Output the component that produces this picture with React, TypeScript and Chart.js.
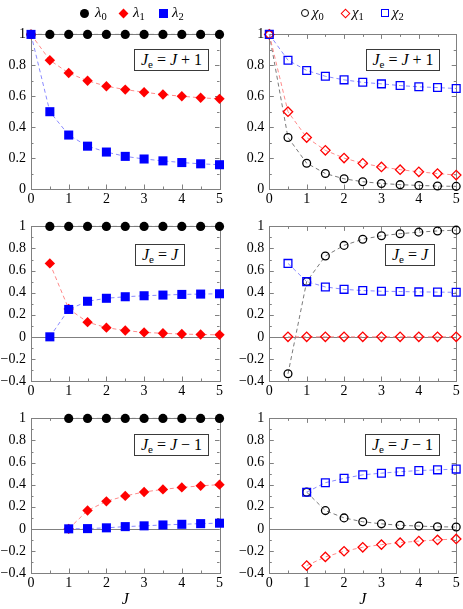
import React, { useEffect, useRef } from "react";
import { Chart, registerables } from "chart.js";

Chart.register(...registerables);

// ---------- data ----------
const J_FULL = [0, 0.5, 1, 1.5, 2, 2.5, 3, 3.5, 4, 4.5, 5];
const J_HALF = [0.5, 1, 1.5, 2, 2.5, 3, 3.5, 4, 4.5, 5];
const J_ONE = [1, 1.5, 2, 2.5, 3, 3.5, 4, 4.5, 5];

// Je = J + 1
const LAMBDA0_PLUS = [1, 1, 1, 1, 1, 1, 1, 1, 1, 1, 1];
const LAMBDA1_PLUS = [1, 0.833, 0.75, 0.7, 0.665, 0.643, 0.626, 0.611, 0.6, 0.59, 0.583];
const LAMBDA2_PLUS = [1, 0.5, 0.349, 0.277, 0.239, 0.211, 0.194, 0.182, 0.171, 0.163, 0.157];
const CHI0_PLUS = [1, 0.333, 0.167, 0.1, 0.066, 0.047, 0.036, 0.028, 0.023, 0.019, 0.017];
const CHI1_PLUS = [1, 0.5, 0.333, 0.25, 0.2, 0.166, 0.143, 0.125, 0.111, 0.1, 0.09];
const CHI2_PLUS = [1, 0.833, 0.767, 0.729, 0.706, 0.69, 0.68, 0.669, 0.661, 0.656, 0.65];

// Je = J
const LAMBDA0_SAME = [1, 1, 1, 1, 1, 1, 1, 1, 1, 1];
const LAMBDA1_SAME = [0.665, 0.253, 0.133, 0.083, 0.057, 0.04, 0.032, 0.025, 0.021, 0.018];
const LAMBDA2_SAME = [0, 0.248, 0.322, 0.349, 0.363, 0.372, 0.378, 0.384, 0.387, 0.39];
const CHI0_SAME = [-0.335, 0.5, 0.732, 0.828, 0.884, 0.915, 0.934, 0.948, 0.959, 0.966];
const CHI1_SAME = [0, 0, 0, 0, 0, 0, 0, 0, 0, 0];
const CHI2_SAME = [0.665, 0.5, 0.452, 0.43, 0.419, 0.413, 0.41, 0.407, 0.405, 0.403];

// Je = J - 1
const LAMBDA0_MINUS = [1, 1, 1, 1, 1, 1, 1, 1, 1];
const LAMBDA1_MINUS = [0, 0.166, 0.249, 0.298, 0.334, 0.357, 0.375, 0.389, 0.4];
const LAMBDA2_MINUS = [0, 0.002, 0.009, 0.02, 0.027, 0.035, 0.041, 0.047, 0.051];
const CHI0_MINUS = [0.332, 0.165, 0.099, 0.064, 0.045, 0.032, 0.025, 0.019, 0.016];
const CHI1_MINUS = [-0.333, -0.254, -0.203, -0.167, -0.143, -0.125, -0.111, -0.1, -0.092];
const CHI2_MINUS = [0.332, 0.418, 0.457, 0.489, 0.504, 0.517, 0.528, 0.534, 0.541];

const LAMBDA_LABELS = ["λ0", "λ1", "λ2"];
const CHI_LABELS = ["χ0", "χ1", "χ2"];
const X_RANGE = [0, 5];
const Y_RANGE_TOP = [0, 1];
const Y_RANGE_LOW = [-0.4, 1];

// ---------- styles ----------
const FONT = "'Liberation Serif', 'Times New Roman', serif";
const FRAME = "#808080";
const KINDS = [
  { color: "#000000", line: "#7a7a7a", style: "circle", rFill: 4.6, rOpen: 3.9 },
  { color: "#ff0000", line: "#ff8a8a", style: "rectRot", rFill: 5.2, rOpen: 4.7 },
  { color: "#0000ff", line: "#8a8aff", style: "rect", rFill: 6.4, rOpen: 5.5 },
];

const framePlugin = {
  id: "frame",
  beforeDatasetsDraw(chart: any) {
    const { ctx, chartArea } = chart;
    const { left, right, top, bottom } = chartArea;
    const xs = chart.scales.x;
    const ys = chart.scales.y;
    const p = (v: number) => Math.round(v) + 0.5;
    ctx.save();
    ctx.lineWidth = 1;
    ctx.strokeStyle = FRAME;
    if (ys.min < 0 && ys.max > 0) {
      const y0 = p(ys.getPixelForValue(0));
      ctx.beginPath();
      ctx.moveTo(left, y0);
      ctx.lineTo(right, y0);
      ctx.stroke();
    }
    ctx.beginPath();
    ys.ticks.forEach((t: any) => {
      const y = p(ys.getPixelForValue(t.value));
      const major = Math.round(t.value * 10) % 2 === 0;
      const len = major ? 4.5 : 2.5;
      ctx.moveTo(left, y);
      ctx.lineTo(left + len, y);
      ctx.moveTo(right, y);
      ctx.lineTo(right - len, y);
    });
    xs.ticks.forEach((t: any) => {
      const x = p(xs.getPixelForValue(t.value));
      const major = Number.isInteger(Math.round(t.value * 100) / 100);
      const len = major ? 4.5 : 2.5;
      ctx.moveTo(x, bottom);
      ctx.lineTo(x, bottom - len);
      ctx.moveTo(x, top);
      ctx.lineTo(x, top + len);
    });
    ctx.stroke();
    const l = p(left), t = p(top);
    ctx.strokeRect(l, t, Math.round(right) - Math.round(left), Math.round(bottom) - Math.round(top));
    ctx.restore();
  },
};

type Series = { label: string; x: number[]; y: number[] };

type PanelProps = {
  left: number;
  top: number;
  width: number;
  height: number;
  yRange: number[];
  series: Series[];
  open: boolean;
  xTitle: boolean;
  yAxisWidth: number;
  padRight: number;
  xAxisHeight: number;
};

function fmt(v: number) {
  const r = Math.round(v * 10) / 10;
  return String(r).replace("-", "\u2212");
}

function Panel(props: PanelProps) {
  const ref = useRef<HTMLCanvasElement>(null);
  useEffect(() => {
    const { yRange, series, open, xTitle, yAxisWidth, padRight, xAxisHeight } = props;
    const chart = new Chart(ref.current as HTMLCanvasElement, {
      type: "line",
      data: {
        datasets: series.map((s, i) => ({
          label: s.label,
          data: s.x.map((x, k) => ({ x, y: s.y[k] })),
          borderColor: KINDS[i].line,
          borderWidth: 1,
          borderDash: [4, 3],
          fill: false,
          tension: 0,
          pointStyle: KINDS[i].style as any,
          pointRadius: open ? KINDS[i].rOpen : KINDS[i].rFill,
          pointBackgroundColor: open ? "rgba(0,0,0,0)" : KINDS[i].color,
          pointBorderColor: KINDS[i].color,
          pointBorderWidth: open ? 1.3 : 0,
          order: 3 - i,
          clip: false as any,
        })),
      },
      options: {
        responsive: false,
        animation: false,
        events: [],
        layout: { padding: { top: 10, right: padRight, bottom: 0, left: 0 } },
        plugins: { legend: { display: false }, tooltip: { enabled: false } },
        scales: {
          x: {
            type: "linear",
            min: X_RANGE[0],
            max: X_RANGE[1],
            grid: { display: false, drawTicks: false, tickLength: 0 },
            border: { display: false },
            ticks: {
              stepSize: 0.5,
              autoSkip: false,
              maxRotation: 0,
              padding: 2,
              color: "#000",
              font: { family: FONT, size: 14 },
              callback: (v: any) => (Number.isInteger(v) ? String(v) : ""),
            },
            title: {
              display: xTitle,
              text: "J",
              color: "#000",
              padding: { top: 0, bottom: 0 },
              font: { family: FONT, size: 16, style: "italic" },
            },
            afterFit: (s: any) => {
              s.height = xAxisHeight;
            },
          },
          y: {
            type: "linear",
            min: yRange[0],
            max: yRange[1],
            grid: { display: false, drawTicks: false, tickLength: 0 },
            border: { display: false },
            ticks: {
              stepSize: 0.1,
              autoSkip: false,
              padding: 5,
              color: "#000",
              font: { family: FONT, size: 14 },
              callback: (v: any) => (Math.round(v * 10) % 2 === 0 ? fmt(v) : ""),
            },
            afterFit: (s: any) => {
              s.width = yAxisWidth;
            },
          },
        },
      } as any,
      plugins: [framePlugin],
    });
    return () => chart.destroy();
  }, []);
  return (
    <canvas
      ref={ref}
      width={props.width}
      height={props.height}
      style={{ position: "absolute", left: props.left, top: props.top, width: props.width, height: props.height }}
    />
  );
}

function LabelBox({ left, top, width, height, rhs }: { left: number; top: number; width: number; height: number; rhs: string }) {
  return (
    <div
      style={{
        position: "absolute",
        left,
        top,
        width,
        height,
        boxSizing: "border-box",
        border: "1px solid #3a3a3a",
        background: "#fff",
        display: "flex",
        alignItems: "center",
        justifyContent: "center",
        fontFamily: FONT,
        fontSize: 16,
        color: "#000",
        whiteSpace: "pre",
        zIndex: 2,
      }}
    >
      <span>
        <i>J</i>
        <span style={{ fontSize: 11, position: "relative", top: 3 }}>e</span>
        {" = "}
        <i>J</i>
        {rhs}
      </span>
    </div>
  );
}

function Marker({ cx, cy, kind, open }: { cx: number; cy: number; kind: number; open: boolean }) {
  const k = KINDS[kind];
  const size = kind === 0 ? (open ? 8 : 9) : kind === 1 ? 7 : open ? 8 : 9;
  const bw = open ? 1.3 : 0;
  return (
    <div
      style={{
        position: "absolute",
        left: cx - size / 2,
        top: cy - size / 2,
        width: size,
        height: size,
        boxSizing: "border-box",
        background: open ? "transparent" : k.color,
        border: open ? `${bw}px solid ${k.color}` : "none",
        borderRadius: kind === 0 ? "50%" : 0,
        transform: kind === 1 ? "rotate(45deg)" : undefined,
      }}
    />
  );
}

function LegendItem({ cx, tx, label, kind, open }: { cx: number; tx: number; label: string; kind: number; open: boolean }) {
  return (
    <>
      <Marker cx={cx} cy={13} kind={kind} open={open} />
      <div
        style={{
          position: "absolute",
          left: tx,
          top: 4,
          fontFamily: FONT,
          fontSize: 15,
          lineHeight: "16px",
          color: "#000",
          whiteSpace: "pre",
        }}
      >
        <i>{label.slice(0, 1)}</i>
        <span style={{ fontSize: 10.5, position: "relative", top: 3 }}>{label.slice(1)}</span>
      </div>
    </>
  );
}

export default function App() {
  const L = { left: 0, width: 231, yAxisWidth: 31, padRight: 11.5 };
  const R = { left: 231, width: 232, yAxisWidth: 38.3, padRight: 5.2 };
  const rows = [
    { top: 21, height: 186, xAxisHeight: 18, yRange: Y_RANGE_TOP, xTitle: false },
    { top: 213, height: 186, xAxisHeight: 18, yRange: Y_RANGE_LOW, xTitle: false },
    { top: 405, height: 204, xAxisHeight: 36, yRange: Y_RANGE_LOW, xTitle: true },
  ];
  const lambdaSeries: Series[][] = [
    [
      { label: LAMBDA_LABELS[0], x: J_FULL, y: LAMBDA0_PLUS },
      { label: LAMBDA_LABELS[1], x: J_FULL, y: LAMBDA1_PLUS },
      { label: LAMBDA_LABELS[2], x: J_FULL, y: LAMBDA2_PLUS },
    ],
    [
      { label: LAMBDA_LABELS[0], x: J_HALF, y: LAMBDA0_SAME },
      { label: LAMBDA_LABELS[1], x: J_HALF, y: LAMBDA1_SAME },
      { label: LAMBDA_LABELS[2], x: J_HALF, y: LAMBDA2_SAME },
    ],
    [
      { label: LAMBDA_LABELS[0], x: J_ONE, y: LAMBDA0_MINUS },
      { label: LAMBDA_LABELS[1], x: J_ONE, y: LAMBDA1_MINUS },
      { label: LAMBDA_LABELS[2], x: J_ONE, y: LAMBDA2_MINUS },
    ],
  ];
  const chiSeries: Series[][] = [
    [
      { label: CHI_LABELS[0], x: J_FULL, y: CHI0_PLUS },
      { label: CHI_LABELS[1], x: J_FULL, y: CHI1_PLUS },
      { label: CHI_LABELS[2], x: J_FULL, y: CHI2_PLUS },
    ],
    [
      { label: CHI_LABELS[0], x: J_HALF, y: CHI0_SAME },
      { label: CHI_LABELS[1], x: J_HALF, y: CHI1_SAME },
      { label: CHI_LABELS[2], x: J_HALF, y: CHI2_SAME },
    ],
    [
      { label: CHI_LABELS[0], x: J_ONE, y: CHI0_MINUS },
      { label: CHI_LABELS[1], x: J_ONE, y: CHI1_MINUS },
      { label: CHI_LABELS[2], x: J_ONE, y: CHI2_MINUS },
    ],
  ];
  const boxes = [
    { l: { left: 134, top: 49, width: 75, height: 22 }, r: { left: 366, top: 49, width: 74, height: 22 }, rhs: " + 1" },
    { l: { left: 135, top: 244, width: 50, height: 22 }, r: { left: 385, top: 244, width: 50, height: 22 }, rhs: "" },
    { l: { left: 134, top: 434, width: 75, height: 22 }, r: { left: 365, top: 434, width: 75, height: 22 }, rhs: " \u2212 1" },
  ];
  return (
    <div style={{ position: "absolute", left: 0, top: 0, width: 463, height: 609, background: "#fff", overflow: "hidden" }}>
      {rows.map((row, i) => (
        <React.Fragment key={i}>
          <Panel
            left={L.left}
            top={row.top}
            width={L.width}
            height={row.height}
            yRange={row.yRange}
            series={lambdaSeries[i]}
            open={false}
            xTitle={row.xTitle}
            yAxisWidth={L.yAxisWidth}
            padRight={L.padRight}
            xAxisHeight={row.xAxisHeight}
          />
          <Panel
            left={R.left}
            top={row.top}
            width={R.width}
            height={row.height}
            yRange={row.yRange}
            series={chiSeries[i]}
            open={true}
            xTitle={row.xTitle}
            yAxisWidth={R.yAxisWidth}
            padRight={R.padRight}
            xAxisHeight={row.xAxisHeight}
          />
          <LabelBox {...boxes[i].l} rhs={boxes[i].rhs} />
          <LabelBox {...boxes[i].r} rhs={boxes[i].rhs} />
        </React.Fragment>
      ))}
      <LegendItem cx={84} tx={95} label={LAMBDA_LABELS[0]} kind={0} open={false} />
      <LegendItem cx={123.5} tx={133} label={LAMBDA_LABELS[1]} kind={1} open={false} />
      <LegendItem cx={163.5} tx={172} label={LAMBDA_LABELS[2]} kind={2} open={false} />
      <LegendItem cx={305} tx={312} label={CHI_LABELS[0]} kind={0} open={true} />
      <LegendItem cx={345} tx={352} label={CHI_LABELS[1]} kind={1} open={true} />
      <LegendItem cx={385} tx={392} label={CHI_LABELS[2]} kind={2} open={true} />
    </div>
  );
}
